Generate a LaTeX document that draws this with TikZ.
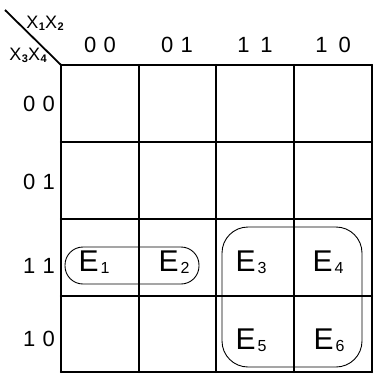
\documentclass[tikz,border=0pt]{standalone}
\usepackage{fontspec}
\setmainfont{Liberation Sans}
\usetikzlibrary{positioning}

\newcommand{\sub}[2]{#1\kern2pt\raisebox{-2pt}{\fontsize{16}{16}\selectfont #2}}
\newcommand{\vsub}[2]{#1\kern0.5pt\raisebox{-2pt}{\fontsize{11}{11}\selectfont\bfseries #2}}

\begin{document}
\begin{tikzpicture}[
    x=1pt,y=-1pt,
    grid/.style={line width=2.2pt,line cap=round},
    loop/.style={line width=0.9pt,rounded corners=26pt},
    hd/.style={font=\fontsize{22}{22}\selectfont,inner sep=0pt},
    var/.style={font=\fontsize{18}{18}\selectfont,inner sep=0pt},
    cell/.style={font=\fontsize{30}{30}\selectfont,inner sep=0pt}
  ]
    \useasboundingbox (0,0) rectangle (388,375);
    % grid
    \foreach \x in {61,139,216,294,372} {\draw[grid] (\x,65) -- (\x,372);}
    \foreach \y in {65,142,219,296,372} {\draw[grid] (61,\y) -- (372,\y);}
    \coordinate (corner) at (61,65);
    \coordinate (tip) at (5,10);
    \draw[line width=1.8pt] (tip) -- (corner);
    % variable names
    \node[var] (x12) at (45,23) {\vsub{X}{1}\vsub{X}{2}};
    \node[var] (x34) at (28,55) {\vsub{X}{3}\vsub{X}{4}};
    % column heads
    \node[hd] (c00) at (100,45) {0\,\,0};
    \node[hd] (c01) at (177,45) {0\,\,1};
    \node[hd] (c11) at (255,45) {1\,\,\,1};
    \node[hd] (c10) at (333,45) {1\,\,\,0};
    % row heads
    \node[hd] (r00) at (39,104) {0\,\,0};
    \node[hd] (r01) at (39,182) {0\,\,1};
    \node[hd] (r11) at (39,266) {1\,\,1};
    \node[hd] (r10) at (39,339) {1\,\,0};
    % cells
    \node[cell] (e1) at (94,262) {\sub{E}{1}};
    \node[cell] (e2) at (174,262) {\sub{E}{2}};
    \node[cell] (e3) at (251,262) {\sub{E}{3}};
    \node[cell] (e4) at (328,262) {\sub{E}{4}};
    \node[cell] (e5) at (251,340) {\sub{E}{5}};
    \node[cell] (e6) at (329,340) {\sub{E}{6}};
    % groups
    \draw[loop,rounded corners=18pt] (65,247) rectangle (199,284);
    \draw[loop] (222,227) rectangle (362,367);
\end{tikzpicture}
\end{document}
